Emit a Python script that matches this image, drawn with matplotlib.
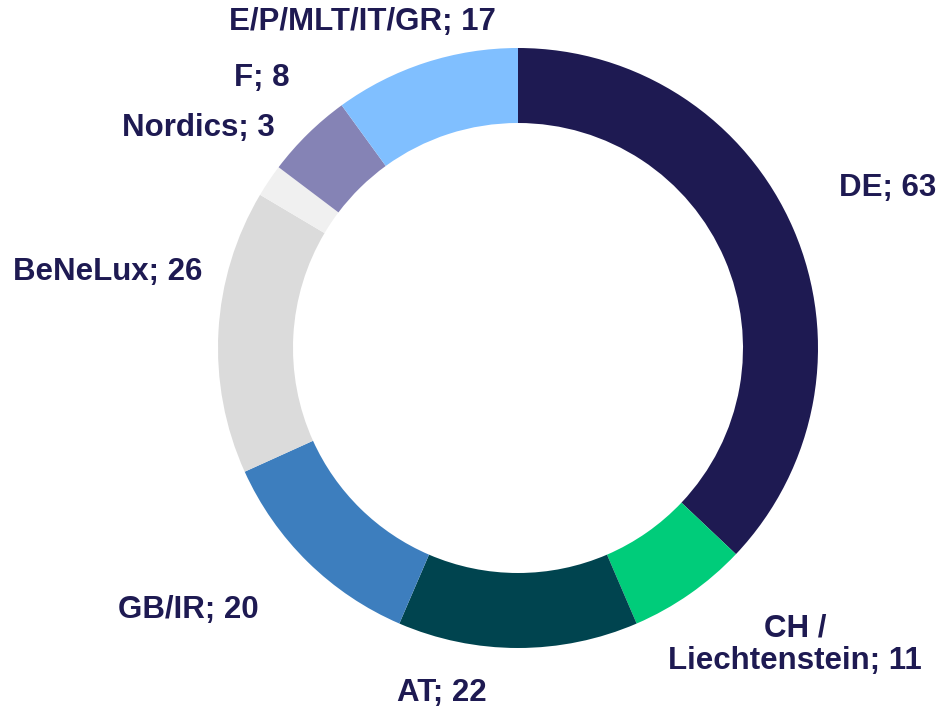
import matplotlib.pyplot as plt
import numpy as np

# Data (clockwise from 12 o'clock)
regions = ['DE', 'CH /\nLiechtenstein', 'AT', 'GB/IR', 'BeNeLux', 'Nordics',
           'F', 'E/P/MLT/IT/GR']
counts = [63, 11, 22, 20, 26, 3, 8, 17]
colors = ['#1E1A52', '#00CC7A', '#00444F', '#3D7EBE', '#DBDBDB', '#F0F0F0',
          '#8583B5', '#80BFFF']

# Layout (pixels in a 953x711 canvas)
W, H = 953, 711
cx, cy, R = 518, 348, 300
label_px = [(888, 188), (795, 645), (442, 693), (188, 610), (108, 272),
            (198, 128), (262, 78), (362, 22)]
text_color = '#1E1A52'

fig = plt.figure(figsize=(W / 100, H / 100), dpi=100)
ax = fig.add_axes([0, 0, 1, 1])
ax.pie(counts, colors=colors, startangle=90, counterclock=False,
       radius=1.0, wedgeprops=dict(width=0.25, linewidth=0))
ax.set_xlim(-cx / R, (W - cx) / R)
ax.set_ylim(-(H - cy) / R, cy / R)
ax.set_aspect('equal', adjustable='box')
ax.axis('off')

for name, val, (px, py) in zip(regions, counts, label_px):
    fig.text(px / W, 1 - py / H, f'{name}; {val}', ha='center', va='center',
             fontsize=22.5, fontweight='bold', color=text_color,
             family='Liberation Sans', linespacing=1.1)

fig.savefig('out.png', dpi=100, facecolor='white')
